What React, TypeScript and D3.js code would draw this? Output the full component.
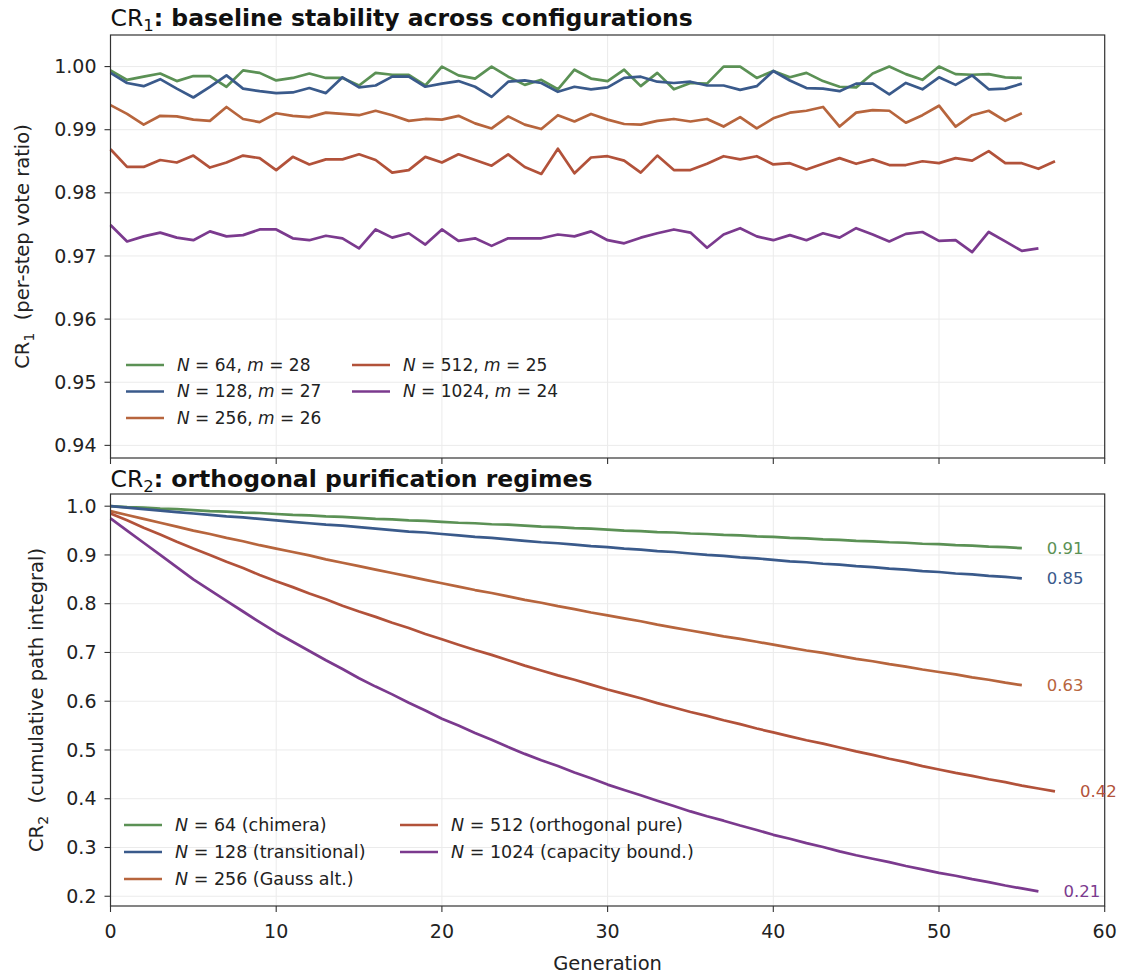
import React from "react";
import * as d3 from "d3";

// ---------- data ----------
const xTicks = [0, 10, 20, 30, 40, 50, 60];
const topYTicks = [0.94, 0.95, 0.96, 0.97, 0.98, 0.99, 1.0];
const botYTicks = [0.2, 0.3, 0.4, 0.5, 0.6, 0.7, 0.8, 0.9, 1.0];

const cr1N64 = [0.9994,0.9979,0.9984,0.9989,0.9977,0.9985,0.9985,0.9968,0.9994,0.9990,0.9978,0.9982,0.9989,0.9982,0.9982,0.9970,0.9990,0.9987,0.9987,0.9970,1.0000,0.9986,0.9981,1.0000,0.9984,0.9971,0.9979,0.9964,0.9995,0.9981,0.9977,0.9995,0.9969,0.9990,0.9964,0.9974,0.9973,1.0000,1.0000,0.9982,0.9993,0.9983,0.9990,0.9977,0.9968,0.9967,0.9989,1.0000,0.9988,0.9979,1.0000,0.9988,0.9987,0.9988,0.9983,0.9982];
const cr1N128 = [0.9990,0.9974,0.9969,0.9980,0.9965,0.9951,0.9968,0.9986,0.9965,0.9961,0.9958,0.9959,0.9966,0.9958,0.9983,0.9967,0.9970,0.9984,0.9984,0.9968,0.9973,0.9977,0.9968,0.9952,0.9976,0.9978,0.9974,0.9960,0.9968,0.9964,0.9967,0.9982,0.9984,0.9976,0.9974,0.9976,0.9970,0.9970,0.9963,0.9969,0.9993,0.9978,0.9966,0.9965,0.9961,0.9973,0.9973,0.9956,0.9974,0.9964,0.9983,0.9971,0.9986,0.9964,0.9965,0.9973];
const cr1N256 = [0.9939,0.9925,0.9908,0.9922,0.9921,0.9916,0.9914,0.9936,0.9917,0.9912,0.9926,0.9922,0.9920,0.9927,0.9925,0.9923,0.9930,0.9923,0.9914,0.9917,0.9916,0.9922,0.9910,0.9902,0.9921,0.9908,0.9901,0.9923,0.9913,0.9925,0.9916,0.9909,0.9908,0.9914,0.9917,0.9913,0.9917,0.9905,0.9920,0.9902,0.9918,0.9927,0.9930,0.9936,0.9905,0.9927,0.9931,0.9930,0.9911,0.9923,0.9938,0.9905,0.9923,0.9930,0.9914,0.9926];
const cr1N512 = [0.9869,0.9841,0.9841,0.9852,0.9848,0.9859,0.9840,0.9848,0.9859,0.9855,0.9836,0.9857,0.9845,0.9853,0.9853,0.9861,0.9852,0.9832,0.9836,0.9857,0.9848,0.9861,0.9852,0.9843,0.9861,0.9841,0.9830,0.9870,0.9831,0.9856,0.9858,0.9851,0.9832,0.9859,0.9836,0.9836,0.9846,0.9858,0.9853,0.9858,0.9845,0.9847,0.9837,0.9846,0.9855,0.9846,0.9853,0.9844,0.9844,0.9850,0.9847,0.9855,0.9851,0.9866,0.9847,0.9847,0.9838,0.9850];
const cr1N1024 = [0.9749,0.9723,0.9731,0.9737,0.9729,0.9725,0.9739,0.9731,0.9733,0.9742,0.9742,0.9728,0.9725,0.9732,0.9728,0.9712,0.9742,0.9729,0.9736,0.9718,0.9742,0.9724,0.9728,0.9716,0.9728,0.9728,0.9728,0.9734,0.9731,0.9739,0.9725,0.9720,0.9729,0.9736,0.9742,0.9737,0.9713,0.9734,0.9744,0.9731,0.9725,0.9733,0.9725,0.9736,0.9729,0.9744,0.9734,0.9723,0.9735,0.9738,0.9724,0.9725,0.9706,0.9738,0.9723,0.9708,0.9712];

const cr2N64 = [1.000,0.998,0.997,0.995,0.994,0.992,0.990,0.989,0.987,0.986,0.984,0.982,0.981,0.979,0.978,0.976,0.974,0.973,0.971,0.970,0.968,0.966,0.965,0.963,0.962,0.960,0.958,0.957,0.955,0.954,0.952,0.950,0.949,0.947,0.946,0.944,0.943,0.941,0.940,0.938,0.937,0.935,0.934,0.932,0.931,0.929,0.928,0.926,0.925,0.923,0.922,0.920,0.919,0.917,0.916,0.914];
const cr2N128 = [1.000,0.997,0.994,0.991,0.988,0.985,0.982,0.979,0.977,0.974,0.971,0.968,0.965,0.962,0.960,0.957,0.954,0.951,0.948,0.946,0.943,0.940,0.937,0.935,0.932,0.929,0.926,0.924,0.921,0.918,0.916,0.913,0.911,0.908,0.906,0.903,0.900,0.898,0.895,0.893,0.890,0.887,0.885,0.882,0.880,0.877,0.875,0.872,0.870,0.867,0.865,0.862,0.860,0.857,0.855,0.852];
const cr2N256 = [0.990,0.982,0.974,0.966,0.958,0.950,0.943,0.935,0.928,0.920,0.913,0.906,0.899,0.891,0.884,0.877,0.870,0.863,0.856,0.849,0.842,0.835,0.828,0.822,0.815,0.808,0.802,0.795,0.789,0.782,0.776,0.770,0.764,0.757,0.751,0.745,0.739,0.733,0.728,0.722,0.716,0.710,0.704,0.699,0.693,0.687,0.682,0.676,0.671,0.665,0.660,0.655,0.649,0.644,0.638,0.633];
const cr2N512 = [0.985,0.971,0.956,0.942,0.927,0.913,0.900,0.886,0.873,0.859,0.846,0.834,0.821,0.809,0.796,0.784,0.773,0.761,0.750,0.738,0.727,0.716,0.705,0.695,0.684,0.673,0.663,0.653,0.644,0.634,0.624,0.615,0.606,0.596,0.587,0.578,0.570,0.561,0.553,0.544,0.536,0.528,0.520,0.513,0.505,0.497,0.490,0.482,0.475,0.467,0.460,0.453,0.447,0.440,0.434,0.427,0.421,0.415];
const cr2N1024 = [0.975,0.950,0.925,0.900,0.875,0.850,0.828,0.806,0.784,0.762,0.741,0.722,0.703,0.684,0.666,0.647,0.630,0.614,0.597,0.581,0.564,0.550,0.535,0.521,0.506,0.492,0.479,0.467,0.454,0.442,0.429,0.418,0.407,0.396,0.385,0.374,0.364,0.355,0.345,0.336,0.326,0.318,0.309,0.301,0.292,0.284,0.277,0.270,0.262,0.255,0.248,0.242,0.235,0.229,0.222,0.216,0.210];

const topNs = ["64", "128", "256", "512", "1024"];
const topMs = ["28", "27", "26", "25", "24"];
const botNotes = ["chimera", "transitional", "Gauss alt.", "orthogonal pure", "capacity bound."];
const endLabels = ["0.91", "0.85", "0.63", "0.42", "0.21"];
const colors = ["#5b9155", "#3a5a8b", "#b7653d", "#b2523a", "#7b3a8e"];

const topSeries = [cr1N64, cr1N128, cr1N256, cr1N512, cr1N1024];
const botSeries = [cr2N64, cr2N128, cr2N256, cr2N512, cr2N1024];

// ---------- layout ----------
const W = 1126;
const H = 977;
const L = 110.5;
const R = 1104.7;
const topBox = [35, 458];
const botBox = [494, 906];
const FONT = "DejaVu Sans, sans-serif";
const TICK = 19;
const LABEL = 19.5;

const x = d3.scaleLinear().domain([0, 60]).range([L, R]);
const yTop = d3.scaleLinear().domain([0.938, 1.005]).range([topBox[1], topBox[0]]);
const yBot = d3.scaleLinear().domain([0.18, 1.025]).range([botBox[1], botBox[0]]);

function Panel({ y, box, ticks, fmt, series, showXLabels }: any) {
  const line = d3.line<number>().x((_, i) => x(i)).y((d) => y(d));
  return (
    <g>
      {xTicks.map((t) => (
        <line key={"gx" + t} x1={x(t)} x2={x(t)} y1={box[0]} y2={box[1]} stroke="#ebebeb" strokeWidth={1} />
      ))}
      {ticks.map((t: number) => (
        <line key={"gy" + t} x1={L} x2={R} y1={y(t)} y2={y(t)} stroke="#ebebeb" strokeWidth={1} />
      ))}
      {series.map((s: number[], i: number) => (
        <path key={"s" + i} d={line(s) || ""} fill="none" stroke={colors[i]} strokeWidth={2.7} strokeLinejoin="round" strokeLinecap="butt" />
      ))}
      <rect x={L} y={box[0]} width={R - L} height={box[1] - box[0]} fill="none" stroke="#333" strokeWidth={1.2} />
      {ticks.map((t: number) => (
        <g key={"yt" + t}>
          <line x1={L - 6} x2={L} y1={y(t)} y2={y(t)} stroke="#333" strokeWidth={1.1} />
          <text x={L - 14} y={y(t)} dy="0.35em" textAnchor="end" fontSize={TICK} fontFamily={FONT} fill="#222">
            {fmt(t)}
          </text>
        </g>
      ))}
      {xTicks.map((t) => (
        <g key={"xt" + t}>
          <line x1={x(t)} x2={x(t)} y1={box[1]} y2={box[1] + 6} stroke="#333" strokeWidth={1.1} />
          {showXLabels && (
            <text x={x(t)} y={box[1] + 32} textAnchor="middle" fontSize={TICK} fontFamily={FONT} fill="#222">
              {t}
            </text>
          )}
        </g>
      ))}
    </g>
  );
}

export default function App() {
  const lineLen = 38;
  return (
    <div style={{ width: W, height: H }}>
      <style>{`body{margin:0;}`}</style>
      <svg width={W} height={H} style={{ display: "block", background: "#fff" }}>
        <Panel y={yTop} box={topBox} ticks={topYTicks} fmt={(t: number) => t.toFixed(2)} series={topSeries} showXLabels={false} />
        <Panel y={yBot} box={botBox} ticks={botYTicks} fmt={(t: number) => t.toFixed(1)} series={botSeries} showXLabels={true} />

        {/* titles */}
        <text x={L} y={26} fontSize={23.5} fontFamily={FONT} fill="#111">
          <tspan>CR</tspan>
          <tspan dy={5} fontSize={16.5}>1</tspan>
          <tspan dy={-5} fontWeight="bold">: baseline stability across configurations</tspan>
        </text>
        <text x={L} y={487} fontSize={23.5} fontFamily={FONT} fill="#111">
          <tspan>CR</tspan>
          <tspan dy={5} fontSize={16.5}>2</tspan>
          <tspan dy={-5} fontWeight="bold">: orthogonal purification regimes</tspan>
        </text>

        {/* y labels */}
        <text transform={`translate(29,${(topBox[0] + topBox[1]) / 2}) rotate(-90)`} textAnchor="middle" fontSize={LABEL} fontFamily={FONT} fill="#222">
          <tspan>CR</tspan>
          <tspan dy={4.5} fontSize={14}>1</tspan>
          <tspan dy={-4.5}>{"\u00a0\u00a0(per-step vote ratio)"}</tspan>
        </text>
        <text transform={`translate(43,${(botBox[0] + botBox[1]) / 2}) rotate(-90)`} textAnchor="middle" fontSize={LABEL} fontFamily={FONT} fill="#222">
          <tspan>CR</tspan>
          <tspan dy={4.5} fontSize={14}>2</tspan>
          <tspan dy={-4.5}>{"\u00a0\u00a0(cumulative path integral)"}</tspan>
        </text>

        {/* x label */}
        <text x={(L + R) / 2} y={970} textAnchor="middle" fontSize={LABEL} fontFamily={FONT} fill="#222">
          Generation
        </text>

        {/* top legend */}
        {topNs.map((n, i) => {
          const col = i < 3 ? 0 : 1;
          const row = i < 3 ? i : i - 3;
          const lx = col === 0 ? 126 : 352;
          const ly = 365 + row * 26.5;
          return (
            <g key={"tl" + i}>
              <line x1={lx} x2={lx + lineLen} y1={ly} y2={ly} stroke={colors[i]} strokeWidth={2.7} />
              <text x={lx + 51} y={ly} dy="0.35em" fontSize={17} fontFamily={FONT} fill="#222">
                <tspan fontStyle="italic">N</tspan>
                <tspan>{` = ${n}, `}</tspan>
                <tspan fontStyle="italic">m</tspan>
                <tspan>{` = ${topMs[i]}`}</tspan>
              </text>
            </g>
          );
        })}

        {/* bottom legend */}
        {topNs.map((n, i) => {
          const col = i < 3 ? 0 : 1;
          const row = i < 3 ? i : i - 3;
          const lx = col === 0 ? 124 : 400;
          const ly = 825 + row * 27;
          return (
            <g key={"bl" + i}>
              <line x1={lx} x2={lx + lineLen} y1={ly} y2={ly} stroke={colors[i]} strokeWidth={2.7} />
              <text x={lx + 51} y={ly} dy="0.35em" fontSize={17.5} fontFamily={FONT} fill="#222">
                <tspan fontStyle="italic">N</tspan>
                <tspan>{` = ${n} (${botNotes[i]})`}</tspan>
              </text>
            </g>
          );
        })}

        {/* end labels */}
        {botSeries.map((s, i) => (
          <text key={"el" + i} x={x(s.length - 1) + 25} y={yBot(s[s.length - 1])} dy="0.35em" fontSize={16.5} fontFamily={FONT} fill={colors[i]}>
            {endLabels[i]}
          </text>
        ))}
      </svg>
    </div>
  );
}
